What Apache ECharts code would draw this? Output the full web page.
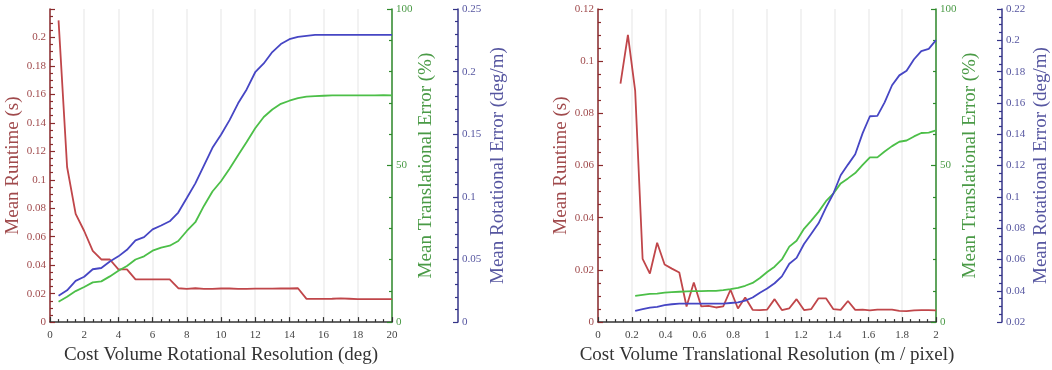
<!DOCTYPE html>
<html>
<head>
<meta charset="utf-8">
<script src="https://cdn.jsdelivr.net/npm/echarts@6/dist/echarts.min.js"></script>
<style>
  html, body { margin: 0; padding: 0; background: #fff; }
  #chart { width: 1052px; height: 370px; }
</style>
</head>
<body>
<div id="chart"></div>
<script>
// left panel: rotational resolution sweep (deg)
const rotX = [0.5, 1, 1.5, 2, 2.5, 3, 3.5, 4, 4.5, 5, 5.5, 6, 6.5, 7, 7.5, 8, 8.5, 9, 9.5, 10,
  10.5, 11, 11.5, 12, 12.5, 13, 13.5, 14, 14.5, 15, 15.5, 16, 16.5, 17, 17.5, 18, 18.5, 19, 19.5, 20]
const rotRuntime = [0.212, 0.109, 0.076, 0.064, 0.050, 0.044, 0.044, 0.037, 0.037, 0.030,
  0.030, 0.030, 0.030, 0.030, 0.0238, 0.0234, 0.0238, 0.0234, 0.0234, 0.0236,
  0.0236, 0.0234, 0.0234, 0.0235, 0.0235, 0.0235, 0.0236, 0.0236, 0.0238, 0.0163,
  0.0163, 0.0163, 0.0164, 0.0166, 0.0164, 0.0162, 0.0162, 0.0162, 0.0162, 0.0162]
const rotTransErr = [6.5, 8.1, 9.9, 11.2, 12.7, 13.0, 14.6, 16.4, 17.9, 20.0,
  21.0, 22.8, 23.8, 24.4, 25.9, 29.1, 31.9, 37.1, 41.7, 45.0,
  49.0, 53.3, 57.5, 61.9, 65.5, 67.9, 69.7, 70.7, 71.5, 72.0,
  72.2, 72.3, 72.4, 72.4, 72.4, 72.4, 72.4, 72.4, 72.5, 72.4]
const rotRotErr = [0.021, 0.0254, 0.0329, 0.0362, 0.0422, 0.0432, 0.0484, 0.0525, 0.0577, 0.0652,
  0.0678, 0.0740, 0.0771, 0.0805, 0.0875, 0.0991, 0.1108, 0.125, 0.1392, 0.1496,
  0.1613, 0.1747, 0.1858, 0.1995, 0.2065, 0.2156, 0.222, 0.2259, 0.2277, 0.2285,
  0.2293, 0.2293, 0.2293, 0.2293, 0.2293, 0.2293, 0.2293, 0.2293, 0.2293, 0.2293]

// right panel: translational resolution sweep (m / pixel)
const transX = [0.133, 0.177, 0.220, 0.264, 0.307, 0.350, 0.394, 0.437, 0.481, 0.524,
  0.567, 0.611, 0.654, 0.698, 0.741, 0.784, 0.828, 0.871, 0.915, 0.958,
  1.001, 1.045, 1.088, 1.132, 1.175, 1.219, 1.262, 1.305, 1.349, 1.392,
  1.436, 1.479, 1.522, 1.566, 1.609, 1.653, 1.696, 1.740, 1.783, 1.826,
  1.870, 1.913, 1.957, 2.000]
const transRuntime = [0.0914, 0.1101, 0.0886, 0.0242, 0.0186, 0.0304, 0.0221, 0.0205, 0.0190, 0.0060,
  0.0152, 0.0060, 0.0062, 0.0056, 0.0060, 0.0124, 0.0052, 0.0094, 0.0047, 0.0046,
  0.0048, 0.0088, 0.0046, 0.0053, 0.0088, 0.0046, 0.0050, 0.0091, 0.0091, 0.0050,
  0.0047, 0.0081, 0.0047, 0.0048, 0.0045, 0.0048, 0.0048, 0.0048, 0.0043, 0.0042,
  0.0045, 0.0046, 0.0046, 0.0045]
// error curves start at the third resolution (0.22)
const transTransErr = [8.4, 8.7, 9.0, 9.1, 9.4, 9.6, 9.7, 9.8,
  9.9, 9.9, 10.0, 10.0, 10.2, 10.5, 10.9, 11.6, 12.5, 14.1,
  16.0, 17.7, 20.0, 24.1, 26.0, 29.8, 32.4, 35.2, 38.6, 41.0,
  44.3, 45.9, 47.6, 50.2, 52.6, 52.6, 54.5, 56.2, 57.6, 58.0,
  59.3, 60.4, 60.5, 61.2]
const transRotErr = [0.0272, 0.0283, 0.0293, 0.0297, 0.0308, 0.0314, 0.0318, 0.0318,
  0.0318, 0.0318, 0.0318, 0.0318, 0.0318, 0.0322, 0.0326, 0.0337, 0.0357, 0.0388,
  0.0415, 0.0448, 0.0492, 0.0573, 0.0610, 0.0699, 0.0765, 0.0831, 0.0931, 0.1020,
  0.1138, 0.1206, 0.1272, 0.1407, 0.1515, 0.1517, 0.1604, 0.1713, 0.1776, 0.1805,
  0.1879, 0.1931, 0.1945, 0.2001]

const FONT = '"Liberation Serif", "DejaVu Serif", serif'
const RED = '#c0464a', RED_AX = '#8a2a2c', RED_TX = '#a04a4c'
const GREEN = '#4cbf48', GREEN_AX = '#2f8a2c', GREEN_TX = '#4a9a46'
const BLUE = '#4646c4', BLUE_AX = '#343488', BLUE_TX = '#5656a0'

function xAx(grid, min, max, interval, minorSplit, name) {
  return {
    gridIndex: grid, type: 'value', min, max, interval,
    axisLine: { lineStyle: { color: '#333', width: 1.5 } },
    axisTick: { inside: true, length: 5, lineStyle: { color: '#333', width: 1.2 } },
    minorTick: { show: true, splitNumber: minorSplit, length: 3, lineStyle: { color: '#333', width: 1.2 } },
    axisLabel: { fontFamily: FONT, fontSize: 11, color: '#444', margin: 8 },
    splitLine: { show: true, lineStyle: { color: '#eeeeee', width: 1.5 } },
    name, nameLocation: 'middle', nameGap: 20,
    nameTextStyle: { fontFamily: FONT, fontSize: 19, color: '#333', verticalAlign: 'top' },
  }
}

function yAx(grid, pos, offset, min, max, interval, minorSplit, name, axCol, txCol, nameGap, showMax) {
  return {
    gridIndex: grid, type: 'value', position: pos, offset, min, max, interval,
    axisLine: { show: true, lineStyle: { color: axCol, width: 1.5 } },
    axisTick: { show: true, inside: true, length: 5, lineStyle: { color: axCol, width: 1.2 } },
    minorTick: { show: true, splitNumber: minorSplit, length: 3, lineStyle: { color: axCol, width: 1.2 } },
    axisLabel: { fontFamily: FONT, fontSize: 11, color: txCol, margin: 4, showMaxLabel: showMax },
    splitLine: { show: false },
    name, nameLocation: 'middle', nameGap, nameRotate: 90,
    nameTextStyle: { fontFamily: FONT, fontSize: 19, color: txCol },
  }
}

function line(xi, yi, xs, ys, color) {
  return {
    type: 'line', xAxisIndex: xi, yAxisIndex: yi, symbol: 'none',
    lineStyle: { color, width: 1.8 }, itemStyle: { color },
    data: ys.map((v, i) => [xs[i], v]),
  }
}

const chart = echarts.init(document.getElementById('chart'), null, { renderer: 'canvas' })
chart.setOption({
  animation: false,
  backgroundColor: '#fff',
  grid: [
    { left: 50, right: 660, top: 9, bottom: 39 },
    { left: 598, right: 113, top: 9, bottom: 39 },
  ],
  xAxis: [
    xAx(0, 0, 20, 2, 4, 'Cost Volume Rotational Resolution (deg)'),
    xAx(1, 0, 2, 0.2, 4, 'Cost Volume Translational Resolution (m / pixel)'),
  ],
  yAxis: [
    yAx(0, 'left', 0, 0, 0.22, 0.02, 4, 'Mean Runtime (s)', RED_AX, RED_TX, 26, false),
    yAx(0, 'right', 0, 0, 100, 50, 5, 'Mean Translational Error (%)', GREEN_AX, GREEN_TX, 25, true),
    yAx(0, 'right', 66, 0, 0.25, 0.05, 5, 'Mean Rotational Error (deg/m)', BLUE_AX, BLUE_TX, 31, true),
    yAx(1, 'left', 0, 0, 0.12, 0.02, 4, 'Mean Runtime (s)', RED_AX, RED_TX, 25, true),
    yAx(1, 'right', 0, 0, 100, 50, 5, 'Mean Translational Error (%)', GREEN_AX, GREEN_TX, 25, true),
    yAx(1, 'right', 66, 0.02, 0.22, 0.02, 4, 'Mean Rotational Error (deg/m)', BLUE_AX, BLUE_TX, 30, true),
  ],
  series: [
    line(0, 0, rotX, rotRuntime, RED),
    line(0, 1, rotX, rotTransErr, GREEN),
    line(0, 2, rotX, rotRotErr, BLUE),
    line(1, 3, transX, transRuntime, RED),
    line(1, 4, transX.slice(2), transTransErr, GREEN),
    line(1, 5, transX.slice(2), transRotErr, BLUE),
  ],
})
</script>
</body>
</html>
